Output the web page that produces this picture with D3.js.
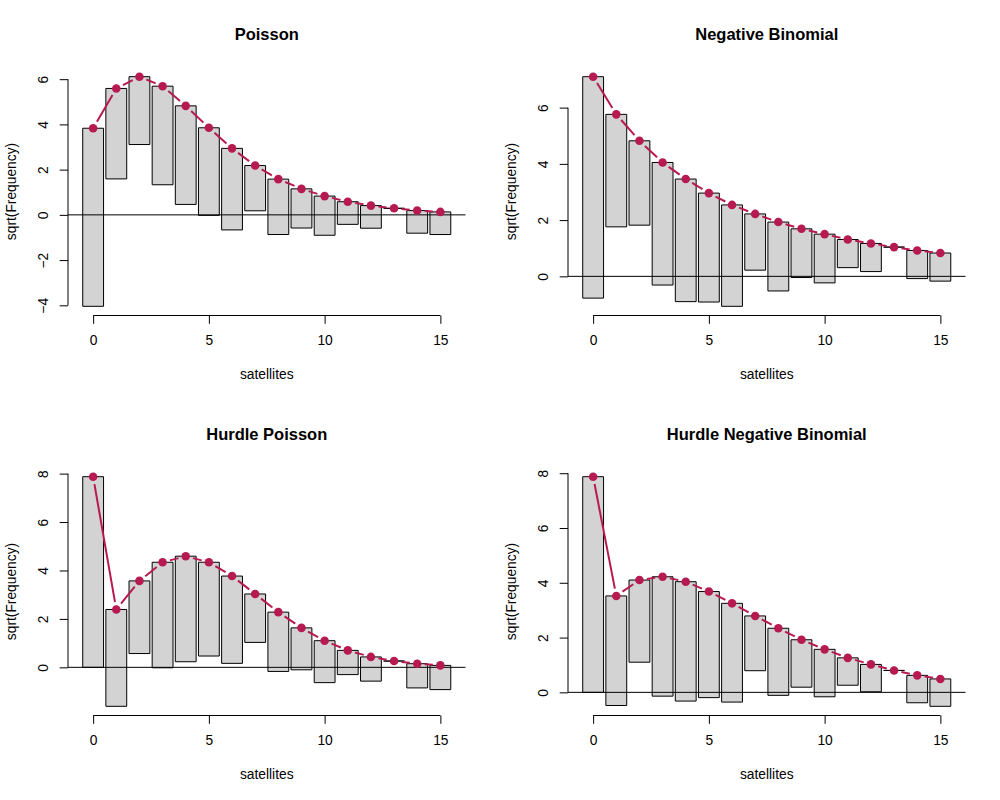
<!DOCTYPE html>
<html><head><meta charset="utf-8">
<script src="https://cdn.jsdelivr.net/npm/d3@7"></script>
<style>
body{margin:0;background:#fff}
svg{display:block;font-family:"Liberation Sans",Arial,Helvetica,sans-serif}
</style>
</head><body>
<svg id="chart" width="1000" height="800"></svg>
<script>
// ---- data ----
const satellites = [0,1,2,3,4,5,6,7,8,9,10,11,12,13,14,15];
const observed   = [62,16,9,19,19,15,13,4,6,3,3,1,1,0,1,1];
// sqrt of expected frequencies
const poissonExp   = [3.83,5.59,6.11,5.69,4.82,3.85,2.94,2.18,1.58,1.15,0.83,0.58,0.41,0.29,0.19,0.13];
const negbinExp    = [7.10,5.76,4.82,4.05,3.46,2.96,2.54,2.22,1.93,1.69,1.50,1.31,1.17,1.04,0.92,0.83];
const hpoissonExp  = [7.874,2.39,3.57,4.34,4.59,4.34,3.77,3.03,2.28,1.63,1.10,0.70,0.43,0.26,0.15,0.08];
const hnegbinExp   = [7.874,3.52,4.10,4.22,4.04,3.68,3.25,2.79,2.34,1.92,1.57,1.26,1.02,0.80,0.62,0.49];
const titles = ["Poisson","Negative Binomial","Hurdle Poisson","Hurdle Negative Binomial"];
const xTicks = [0,5,10,15];
const yTicksPoisson  = [-4,-2,0,2,4,6];
const yTicksNegbin   = [0,2,4,6];
const yTicksHurdle   = [0,2,4,6,8];
const yTicksHNegbin  = [0,2,4,6,8];

const panels = [
  {title: titles[0], exp: poissonExp,  yTicks: yTicksPoisson},
  {title: titles[1], exp: negbinExp,   yTicks: yTicksNegbin},
  {title: titles[2], exp: hpoissonExp, yTicks: yTicksHurdle},
  {title: titles[3], exp: hnegbinExp,  yTicks: yTicksHNegbin}
];

const svg = d3.select("#chart");
const COL = "#B61A51";
const barW = 0.9;
const FS = 13.8;

panels.forEach((p, i) => {
  const ox = (i % 2) * 500, oy = Math.floor(i / 2) * 400;
  const L = ox + 68, R = ox + 465.5, T = oy + 67.5, B = oy + 315.5;
  const g = svg.append("g");

  const data = satellites.map((s, k) => {
    const top = p.exp[k];
    const bottom = top - Math.sqrt(observed[k]);
    return {s, top, bottom};
  });

  const x0 = d3.min(satellites) - barW / 2, x1 = d3.max(satellites) + barW / 2;
  const xe = 0.04 * (x1 - x0);
  const x = d3.scaleLinear().domain([x0 - xe, x1 + xe]).range([L, R]);

  const y0 = Math.min(0, d3.min(data, d => d.bottom)), y1 = d3.max(data, d => d.top);
  const ye = 0.04 * (y1 - y0);
  const y = d3.scaleLinear().domain([y0 - ye, y1 + ye]).range([B, T]);

  // bars (hanging)
  g.append("g").selectAll("path").data(data).join("path")
    .attr("d", d => {
      const a = x(d.s - barW / 2), b = x(d.s + barW / 2), t = y(d.top), u = y(d.bottom);
      return `M${a},${t}L${b},${t}L${b},${u}L${a},${u}Z`;
    })
    .attr("fill", "#D3D3D3").attr("stroke", "#000").attr("stroke-width", 1);

  // zero reference line
  g.append("line").attr("x1", L).attr("x2", R).attr("y1", y(0)).attr("y2", y(0))
    .attr("stroke", "#000").attr("stroke-width", 1);

  // expected line (type "b": gaps around points)
  const gap = 7.5;
  const segs = [];
  for (let k = 0; k < data.length - 1; k++) {
    const ax = x(data[k].s), ay = y(data[k].top), bx = x(data[k+1].s), by = y(data[k+1].top);
    const len = Math.hypot(bx - ax, by - ay);
    if (len > 2 * gap) {
      const f = gap / len;
      segs.push([ax + (bx - ax) * f, ay + (by - ay) * f, bx - (bx - ax) * f, by - (by - ay) * f]);
    }
  }
  g.append("g").selectAll("line").data(segs).join("line")
    .attr("x1", d => d[0]).attr("y1", d => d[1]).attr("x2", d => d[2]).attr("y2", d => d[3])
    .attr("stroke", COL).attr("stroke-width", 2).attr("stroke-linecap", "butt");
  g.append("g").selectAll("circle").data(data).join("circle")
    .attr("cx", d => x(d.s)).attr("cy", d => y(d.top)).attr("r", 4.3)
    .attr("fill", COL);

  // x axis
  const xa = g.append("g").attr("transform", `translate(0,${B})`)
    .call(d3.axisBottom(x).tickValues(xTicks).tickSize(8.3).tickSizeOuter(0).tickFormat(d3.format("d")));
  xa.select(".domain").attr("d", `M${x(xTicks[0])},0H${x(xTicks[xTicks.length-1])}`).attr("stroke", "#000");
  xa.selectAll(".tick line").attr("stroke", "#000");
  xa.selectAll(".tick text").attr("y", 29.5).attr("dy", null)
    .attr("font-size", FS).attr("font-family", null).attr("fill", "#000");
  xa.attr("font-family", null).attr("font-size", null);

  // y axis
  const ya = g.append("g").attr("transform", `translate(${L},0)`)
    .call(d3.axisLeft(y).tickValues(p.yTicks).tickSize(8.3).tickSizeOuter(0).tickFormat(d => d < 0 ? "\u2212" + Math.abs(d) : d));
  ya.select(".domain").attr("d", `M0,${y(p.yTicks[0])}V${y(p.yTicks[p.yTicks.length-1])}`).attr("stroke", "#000");
  ya.selectAll(".tick line").attr("stroke", "#000");
  ya.selectAll(".tick text").attr("x", null).attr("dy", null)
    .attr("transform", "translate(-20,0) rotate(-90)")
    .attr("text-anchor", "middle")
    .attr("font-size", FS).attr("fill", "#000");
  ya.attr("font-family", null).attr("font-size", null);

  // labels
  g.append("text").attr("x", (L + R) / 2).attr("y", oy + 40)
    .attr("text-anchor", "middle").attr("font-weight", "bold").attr("font-size", 16.5)
    .text(p.title);
  g.append("text").attr("x", (L + R) / 2).attr("y", oy + 379)
    .attr("text-anchor", "middle").attr("font-size", FS).text("satellites");
  g.append("text")
    .attr("transform", `translate(${ox + 15.5},${(T + B) / 2}) rotate(-90)`)
    .attr("text-anchor", "middle").attr("font-size", FS).text("sqrt(Frequency)");
});
</script>
</body></html>
